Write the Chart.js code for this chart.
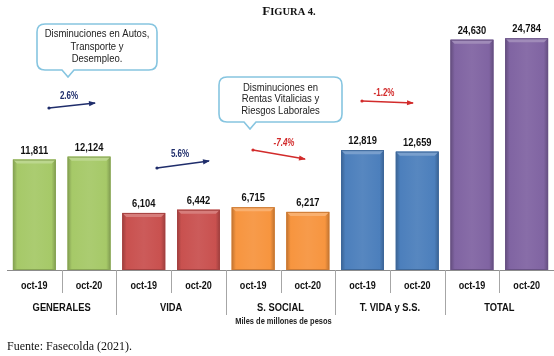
<!DOCTYPE html>
<html>
<head>
<meta charset="utf-8">
<script src="https://cdn.jsdelivr.net/npm/chart.js@4"></script>
<style>
  html, body { margin: 0; padding: 0; background: #ffffff; }
  #c { display: block; }
</style>
</head>
<body>
<canvas id="c" width="554" height="356"></canvas>
<script>
// ---- DATA ----
const categories = ['oct-19', 'oct-20', 'oct-19', 'oct-20', 'oct-19', 'oct-20', 'oct-19', 'oct-20', 'oct-19', 'oct-20'];
const groups = ['GENERALES', 'VIDA', 'S. SOCIAL', 'T. VIDA y S.S.', 'TOTAL'];
const values = [11811, 12124, 6104, 6442, 6715, 6217, 12819, 12659, 24630, 24784];
const changeLabels = ['2.6%', '5.6%', '-7.4%', '-1.2%'];
const unitLabel = 'Miles de millones de pesos';
const titleText = ['F', 'IGURA 4.'];
const sourceText = 'Fuente: Fasecolda (2021).';
const callout1 = ['Disminuciones en Autos,', 'Transporte y', 'Desempleo.'];
const callout2 = ['Disminuciones en', 'Rentas Vitalicias y', 'Riesgos Laborales'];

// ---- STYLE ----
const groupColors = ['#a6c968', '#c9514f', '#f7953f', '#4c7fbc', '#8064a2'];
const barColors = values.map((v, i) => groupColors[Math.floor(i / 2)]);

function shade(hex, f) {
  const n = parseInt(hex.slice(1), 16);
  let r = (n >> 16) & 255, g = (n >> 8) & 255, b = n & 255;
  if (f >= 0) { r += (255 - r) * f; g += (255 - g) * f; b += (255 - b) * f; }
  else { r *= (1 + f); g *= (1 + f); b *= (1 + f); }
  return 'rgb(' + Math.round(r) + ',' + Math.round(g) + ',' + Math.round(b) + ')';
}

function txt(ctx, s, x, y, font, color, align, sx) {
  ctx.save();
  ctx.font = font;
  ctx.fillStyle = color;
  ctx.textBaseline = 'middle';
  ctx.textAlign = align || 'center';
  ctx.translate(x, y);
  ctx.scale(sx || 1, 1);
  ctx.fillText(s, 0, 0);
  ctx.restore();
}

function arrow(ctx, x1, y1, x2, y2, color) {
  ctx.save();
  ctx.strokeStyle = color;
  ctx.fillStyle = color;
  ctx.lineWidth = 1.5;
  ctx.beginPath();
  ctx.moveTo(x1, y1);
  ctx.lineTo(x2, y2);
  ctx.stroke();
  ctx.beginPath();
  ctx.arc(x1, y1, 1.6, 0, Math.PI * 2);
  ctx.fill();
  const a = Math.atan2(y2 - y1, x2 - x1);
  const L = 6, W = 2.6;
  ctx.beginPath();
  ctx.moveTo(x2 + Math.cos(a) * 1, y2 + Math.sin(a) * 1);
  ctx.lineTo(x2 - Math.cos(a) * L - Math.sin(a) * W, y2 - Math.sin(a) * L + Math.cos(a) * W);
  ctx.lineTo(x2 - Math.cos(a) * L + Math.sin(a) * W, y2 - Math.sin(a) * L - Math.cos(a) * W);
  ctx.closePath();
  ctx.fill();
  ctx.restore();
}

function callout(ctx, l, t, r, b, tipX, tipY, lines, lineH) {
  const rad = 8;
  ctx.save();
  ctx.beginPath();
  ctx.moveTo(l + rad, t);
  ctx.lineTo(r - rad, t);
  ctx.quadraticCurveTo(r, t, r, t + rad);
  ctx.lineTo(r, b - rad);
  ctx.quadraticCurveTo(r, b, r - rad, b);
  ctx.lineTo(tipX + 6, b);
  ctx.lineTo(tipX, tipY);
  ctx.lineTo(tipX - 6, b);
  ctx.lineTo(l + rad, b);
  ctx.quadraticCurveTo(l, b, l, b - rad);
  ctx.lineTo(l, t + rad);
  ctx.quadraticCurveTo(l, t, l + rad, t);
  ctx.closePath();
  ctx.fillStyle = '#ffffff';
  ctx.fill();
  ctx.strokeStyle = '#86c5e0';
  ctx.lineWidth = 1.6;
  ctx.stroke();
  ctx.restore();
  const cx = (l + r) / 2;
  const y0 = t + (b - t) / 2 - (lines.length - 1) * lineH / 2;
  lines.forEach((s, i) => txt(ctx, s, cx, y0 + i * lineH, '10px "Liberation Sans", Arial, sans-serif', '#222222', 'center', 0.95));
}

const decor = {
  id: 'decor',
  afterDatasetsDraw(chart) {
    const ctx = chart.ctx;
    const meta = chart.getDatasetMeta(0);
    meta.data.forEach((el, i) => {
      const w = el.width, l = el.x - w / 2, r = el.x + w / 2, t = el.y, b = el.base;
      const c = barColors[i];
      const g = ctx.createLinearGradient(l, 0, r, 0);
      g.addColorStop(0, shade(c, -0.22));
      g.addColorStop(0.1, c);
      g.addColorStop(0.5, shade(c, 0.06));
      g.addColorStop(0.9, c);
      g.addColorStop(1, shade(c, -0.22));
      ctx.save();
      ctx.fillStyle = g;
      ctx.fillRect(l, t, w, b - t);
      ctx.beginPath();
      ctx.moveTo(l, t); ctx.lineTo(r, t); ctx.lineTo(r - 4, t + 4); ctx.lineTo(l + 4, t + 4); ctx.closePath();
      ctx.fillStyle = shade(c, 0.25);
      ctx.fill();
      ctx.strokeStyle = shade(c, -0.18);
      ctx.lineWidth = 1;
      ctx.strokeRect(l + 0.5, t + 0.5, w - 1, b - t - 1);
      ctx.restore();
      txt(ctx, values[i].toLocaleString('en-US'), el.x, t - 9, 'bold 11px "Liberation Sans", Arial, sans-serif', '#111111', 'center', 0.85);
    });
  },
  afterDraw(chart) {
    const ctx = chart.ctx;
    const ca = chart.chartArea;
    const xs = chart.scales.x;
    ctx.save();
    ctx.strokeStyle = '#8c8c8c';
    ctx.lineWidth = 1;
    ctx.beginPath();
    ctx.moveTo(ca.left, ca.bottom + 0.5);
    ctx.lineTo(ca.right, ca.bottom + 0.5);
    ctx.stroke();
    ctx.strokeStyle = '#a6a6a6';
    for (let i = 1; i < categories.length; i++) {
      const x = Math.round((xs.getPixelForValue(i - 1) + xs.getPixelForValue(i)) / 2) + 0.5;
      const len = (i % 2 === 0) ? 45 : 23;
      ctx.beginPath();
      ctx.moveTo(x, ca.bottom);
      ctx.lineTo(x, ca.bottom + len);
      ctx.stroke();
    }
    ctx.restore();
    categories.forEach((s, i) => {
      txt(ctx, s, xs.getPixelForValue(i), ca.bottom + 16, 'bold 11px "Liberation Sans", Arial, sans-serif', '#111111', 'center', 0.82);
    });
    groups.forEach((s, g) => {
      const x = (xs.getPixelForValue(2 * g) + xs.getPixelForValue(2 * g + 1)) / 2;
      txt(ctx, s, x, ca.bottom + 38, 'bold 11px "Liberation Sans", Arial, sans-serif', '#111111', 'center', 0.85);
    });
    txt(ctx, unitLabel, (ca.left + ca.right) / 2 + 3, ca.bottom + 52, 'bold 8.5px "Liberation Sans", Arial, sans-serif', '#222222', 'center', 0.88);

    // title
    ctx.save();
    ctx.font = 'bold 10.5px "Liberation Serif", "Times New Roman", serif';
    const wRest = ctx.measureText(titleText[1]).width;
    ctx.font = 'bold 13px "Liberation Serif", "Times New Roman", serif';
    const wF = ctx.measureText(titleText[0]).width;
    const tx0 = 289 - (wF + wRest) / 2;
    ctx.fillStyle = '#111111';
    ctx.textBaseline = 'alphabetic';
    ctx.textAlign = 'left';
    ctx.fillText(titleText[0], tx0, 15);
    ctx.font = 'bold 10.5px "Liberation Serif", "Times New Roman", serif';
    ctx.fillText(titleText[1], tx0 + wF, 15);
    ctx.font = '12px "Liberation Serif", "Times New Roman", serif';
    ctx.fillText(sourceText, 7, 350);
    ctx.restore();

    callout(ctx, 37, 24, 157, 70, 68, 77, callout1, 12.5);
    callout(ctx, 219, 77, 342, 122, 250, 129, callout2, 11.5);

    const navy = '#1f2d6b', red = '#d22b2b';
    const pf = 'bold 10px "Liberation Sans", Arial, sans-serif';
    arrow(ctx, 49, 108, 95, 103, navy);
    txt(ctx, changeLabels[0], 69, 96, pf, navy, 'center', 0.8);
    arrow(ctx, 157, 168, 209, 161, navy);
    txt(ctx, changeLabels[1], 180, 154, pf, navy, 'center', 0.8);
    arrow(ctx, 253, 150, 305, 159, red);
    txt(ctx, changeLabels[2], 284, 143, 'italic ' + pf, red, 'center', 0.8);
    arrow(ctx, 362, 101, 413, 103, red);
    txt(ctx, changeLabels[3], 384, 93, pf, red, 'center', 0.8);
  }
};

new Chart(document.getElementById('c'), {
  type: 'bar',
  data: {
    labels: categories,
    datasets: [{
      data: values,
      backgroundColor: barColors,
      borderWidth: 0,
      categoryPercentage: 0.8,
      barPercentage: 0.98
    }]
  },
  options: {
    responsive: false,
    animation: false,
    devicePixelRatio: 1,
    layout: { padding: { top: 26, bottom: 86, left: 7, right: 0 } },
    scales: {
      x: { display: false },
      y: { display: false, min: 0, max: 26100 }
    },
    plugins: { legend: { display: false }, tooltip: { enabled: false } }
  },
  plugins: [decor]
});
</script>
</body>
</html>
